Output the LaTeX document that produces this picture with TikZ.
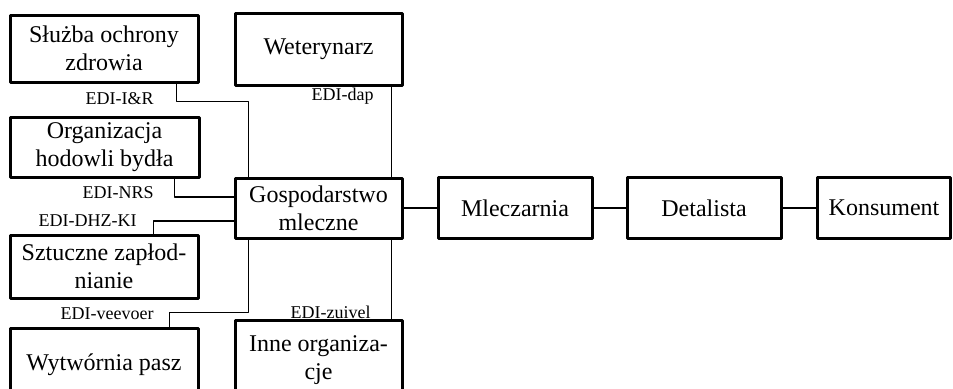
\documentclass[tikz,border=0pt]{standalone}
\usepackage{fontspec}
\setmainfont{Liberation Serif}
\begin{document}
\begin{tikzpicture}[x=.5pt,y=-.5pt,line join=round,
    box/.style={draw,line width=1.5pt,align=center,inner sep=0pt,font=\fontsize{12}{14}\selectfont},
    lbl/.style={font=\fontsize{9}{10}\selectfont,inner sep=1pt,anchor=east},
    link/.style={line width=.9pt}]
  \useasboundingbox (0,0) rectangle (953,388);
  % jednostki
  \node[box,minimum width=94pt,minimum height=33.5pt] (sluzba) at (104,48.5) {Służba ochrony\\zdrowia};
  \node[box,minimum width=83.5pt,minimum height=36pt] (wet) at (318.5,49) {Weterynarz};
  \node[box,minimum width=94.5pt,minimum height=30pt] (org) at (104.5,147) {Organizacja\\hodowli bydła};
  \node[box,minimum width=83.5pt,minimum height=30pt] (gosp) at (318.5,208) {Gospodarstwo\\mleczne};
  \node[box,minimum width=94pt,minimum height=31.5pt] (szt) at (104,266.5) {Sztuczne zapłod-\\nianie};
  \node[box,minimum width=94pt,minimum height=37pt] (wytw) at (104,365) {Wytwórnia pasz};
  \node[box,minimum width=83.5pt,minimum height=40pt] (inne) at (318.5,360) {Inne organiza-\\cje};
  \node[box,minimum width=77pt,minimum height=30.5pt] (mlecz) at (515,208) {Mleczarnia};
  \node[box,minimum width=77pt,minimum height=30.5pt] (detal) at (704,208) {Detalista};
  \node[box,minimum width=66.5pt,minimum height=30.5pt] (kons) at (884,208) {Konsument};
  % polaczenia
  \draw[link] ([xshift=-11.5pt]sluzba.south east) -- ++(0,18) -| ([xshift=7.5pt]gosp.north west);
  \draw[link] ([xshift=-6pt]wet.south east) -- ([xshift=-6pt]gosp.north east);
  \draw[link] ([xshift=-13pt]org.south east) |- ([yshift=5.5pt]gosp.west);
  \draw[link] ([yshift=-6.5pt]gosp.west) -| ([xshift=-23pt]szt.north east);
  \draw[link] ([xshift=7.5pt]gosp.south west) -- ++(0,73) -| ([xshift=-15pt]wytw.north east);
  \draw[link] ([xshift=-6pt]gosp.south east) -- ([xshift=-6pt]inne.north east);
  \draw[link] (gosp) -- (mlecz) -- (detal) -- (kons);
  % etykiety
  \node[lbl] (lir) at (156,99) {EDI-I\&R};
  \node[lbl] (ldap) at (376,96) {EDI-dap};
  \node[lbl] (lnrs) at (156,193) {EDI-NRS};
  \node[lbl] (ldhz) at (139,221) {EDI-DHZ-KI};
  \node[lbl] (lvee) at (156,314) {EDI-veevoer};
  \node[lbl] (lzuv) at (373,312) {EDI-zuivel};
\end{tikzpicture}
\end{document}
